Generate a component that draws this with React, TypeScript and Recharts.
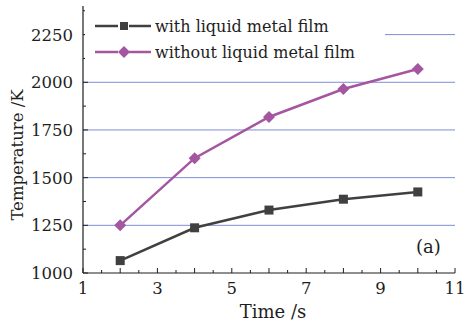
import { LineChart, Line, XAxis, YAxis, Legend, ReferenceLine } from 'recharts';

const times = [2, 4, 6, 8, 10];
const withFilm = [1065, 1237, 1330, 1387, 1425];
const withoutFilm = [1250, 1602, 1818, 1965, 2070];

const xTicks = [1, 1.5, 2, 2.5, 3, 3.5, 4, 4.5, 5, 5.5, 6, 6.5, 7, 7.5, 8, 8.5, 9, 9.5, 10, 10.5, 11];
const yTicks = [1000, 1125, 1250, 1375, 1500, 1625, 1750, 1875, 2000, 2125, 2250, 2375];
const gridValues = [1250, 1500, 1750, 2000, 2250];

const seriesNames = ['with liquid metal film', 'without liquid metal film'];

const data = times.map((t, i) => ({ t, withFilm: withFilm[i], withoutFilm: withoutFilm[i] }));

const FONT = "'DejaVu Serif', serif";
const INK = '#1e1e1e';
const GRAY = '#404040';
const PURPLE = '#a456a0';
const GRID = '#7d8dd8';

function BottomTick({ x, y, payload }: any) {
  const v = payload.value;
  const major = Number.isInteger(v);
  return (
    <g>
      <line x1={x} x2={x} y1={y} y2={y - (major ? 5 : 3)} stroke={INK} strokeWidth={1} />
      {major && v % 2 === 1 && (
        <text x={x} y={y + 21} textAnchor="middle" fontFamily={FONT} fontSize={16.5} fill={INK}>{v}</text>
      )}
    </g>
  );
}

function TopTick({ x, y, payload }: any) {
  const major = Number.isInteger(payload.value);
  return <line x1={x} x2={x} y1={y} y2={y + (major ? 5 : 3)} stroke={INK} strokeWidth={1} />;
}

function LeftTick({ x, y, payload }: any) {
  const v = payload.value;
  const major = v % 250 === 0;
  return (
    <g>
      <line x1={x} x2={x + (major ? 5 : 3)} y1={y} y2={y} stroke={INK} strokeWidth={1} />
      {major && (
        <text x={x - 10} y={y + 6} textAnchor="end" fontFamily={FONT} fontSize={16.5} fill={INK}>{v}</text>
      )}
    </g>
  );
}

function RightTick({ x, y, payload }: any) {
  const major = payload.value % 250 === 0;
  return <line x1={x} x2={x - (major ? 5 : 3)} y1={y} y2={y} stroke={INK} strokeWidth={1} />;
}

function SquareDot({ cx, cy, index }: any) {
  return <rect key={`s${index}`} x={cx - 4.5} y={cy - 4.5} width={9} height={9} fill={GRAY} />;
}

function DiamondDot({ cx, cy, index }: any) {
  return <polygon key={`d${index}`} points={`${cx},${cy - 6} ${cx + 6},${cy} ${cx},${cy + 6} ${cx - 6},${cy}`} fill={PURPLE} />;
}

function LegendBox() {
  const items = [
    { name: seriesNames[0], color: GRAY, shape: 'square' },
    { name: seriesNames[1], color: PURPLE, shape: 'diamond' },
  ];
  return (
    <div style={{ width: '100%', height: '100%', background: '#fff' }}>
      {items.map((it, i) => (
        <div key={it.name} style={{ position: 'absolute', left: 0, top: i === 0 ? 8 : 34, height: 20, display: 'flex', alignItems: 'center' }}>
          <svg width={66} height={20}>
            <line x1={10} x2={33} y1={10} y2={10} stroke={it.color} strokeWidth={2.5} />
            <line x1={44} x2={66} y1={10} y2={10} stroke={it.color} strokeWidth={2.5} />
            {it.shape === 'square'
              ? <rect x={35} y={6} width={8} height={8} fill={it.color} />
              : <polygon points="39,4 45,10 39,16 33,10" fill={it.color} />}
          </svg>
          <span style={{ marginLeft: 4, fontFamily: FONT, fontSize: 16, color: INK, whiteSpace: 'nowrap' }}>{it.name}</span>
        </div>
      ))}
    </div>
  );
}

export default function App() {
  return (
    <div style={{ position: 'absolute', left: 0, top: 0, width: 468, height: 321, background: '#fff' }}>
      <LineChart width={468} height={321} data={data} margin={{ top: 6, right: 13, left: 0, bottom: 0 }}>
        <XAxis
          dataKey="t" type="number" domain={[1, 11]} ticks={xTicks} interval={0}
          height={48} tickSize={0} tickMargin={0} tickLine={false}
          axisLine={{ stroke: INK, strokeWidth: 1.2 }} tick={<BottomTick />}
          label={{
            content: () => (
              <text x={273} y={318} textAnchor="middle" fontFamily={FONT} fontSize={18} fill={INK}>Time /s</text>
            ),
          }}
        />
        <XAxis
          xAxisId="top" orientation="top" dataKey="t" type="number" domain={[1, 11]} ticks={xTicks} interval={0}
          height={0} tickSize={0} tickMargin={0} tickLine={false}
          axisLine={{ stroke: INK, strokeWidth: 1.2 }} tick={<TopTick />}
        />
        <YAxis
          type="number" domain={[1000, 2400]} ticks={yTicks} interval={0}
          width={83} tickSize={0} tickMargin={0} tickLine={false}
          axisLine={{ stroke: INK, strokeWidth: 1.2 }} tick={<LeftTick />}
          label={{
            content: () => (
              <text transform="translate(23,155) rotate(-90)" textAnchor="middle" fontFamily={FONT} fontSize={16.5} fill={INK}>Temperature /K</text>
            ),
          }}
        />
        <YAxis
          yAxisId="right" orientation="right" type="number" domain={[1000, 2400]} ticks={yTicks} interval={0}
          width={0} tickSize={0} tickMargin={0} tickLine={false}
          axisLine={{ stroke: INK, strokeWidth: 1.2 }} tick={<RightTick />}
        />
        {gridValues.map(v => (
          <ReferenceLine key={v} y={v} stroke={GRID} strokeWidth={1} />
        ))}
        <Legend
          layout="vertical" align="center" verticalAlign="middle"
          wrapperStyle={{ left: 85, top: 8, width: 300, height: 54 }}
          content={<LegendBox />}
        />
        <Line
          name={seriesNames[0]} dataKey="withFilm" stroke={GRAY} strokeWidth={2.5}
          dot={<SquareDot />} activeDot={false} isAnimationActive={false}
        />
        <Line
          name={seriesNames[1]} dataKey="withoutFilm" stroke={PURPLE} strokeWidth={2.5}
          dot={<DiamondDot />} activeDot={false} isAnimationActive={false}
        />
      </LineChart>
      <span style={{ position: 'absolute', left: 416, top: 236, fontFamily: FONT, fontSize: 18, color: INK }}>(a)</span>
    </div>
  );
}
